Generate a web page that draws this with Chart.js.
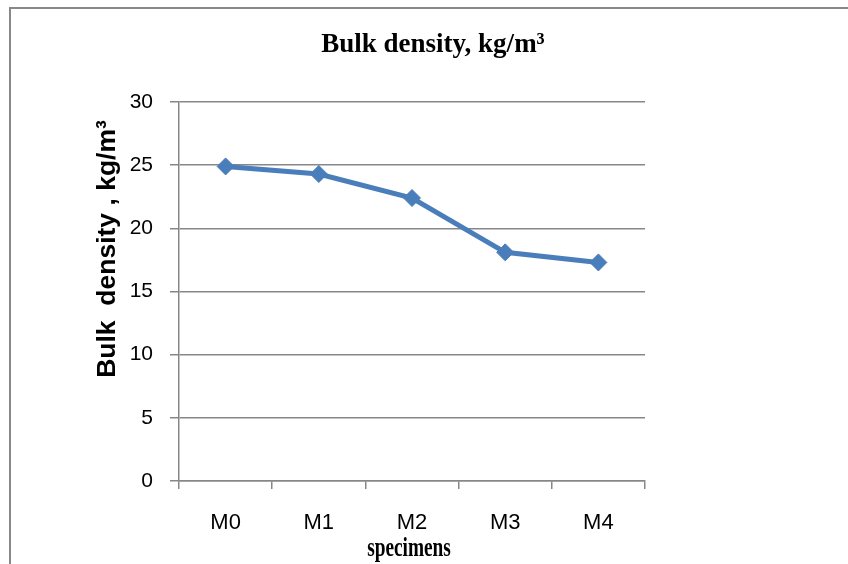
<!DOCTYPE html>
<html>
<head>
<meta charset="utf-8">
<script src="https://cdn.jsdelivr.net/npm/chart.js@4/dist/chart.umd.min.js"></script>
<style>
html,body{margin:0;padding:0;background:#fff;}
#c{display:block;}
</style>
</head>
<body>
<canvas id="c" width="848" height="564"></canvas>
<script>
// ---- data ----
const categories = ['M0', 'M1', 'M2', 'M3', 'M4'];
const bulkDensity = [24.9, 24.3, 22.4, 18.1, 17.3];
const yTicks = [0, 5, 10, 15, 20, 25, 30];
const chartTitle = 'Bulk density, kg/m³';
const yAxisTitle = 'Bulk  density , kg/m³';
const xAxisTitle = 'specimens';

const GRID = '#878787';
const BLUE = '#4A7EBB';

const decor = {
  id: 'decor',
  beforeDraw(chart) {
    const ctx = chart.ctx;
    ctx.save();
    ctx.fillStyle = '#fff';
    ctx.fillRect(0, 0, chart.width, chart.height);
    ctx.strokeStyle = '#888';
    ctx.lineWidth = 2;
    ctx.beginPath();
    ctx.moveTo(10, 564);
    ctx.lineTo(10, 8);
    ctx.lineTo(848, 8);
    ctx.stroke();
    ctx.restore();
  },
  afterDraw(chart) {
    const ctx = chart.ctx;
    const area = chart.chartArea;
    ctx.save();
    ctx.fillStyle = '#000';
    // chart title
    ctx.save();
    ctx.translate(433, 52);
    ctx.scale(1, 1.05);
    ctx.font = 'bold 27px "Liberation Serif"';
    ctx.textAlign = 'center';
    ctx.textBaseline = 'alphabetic';
    ctx.fillText(chartTitle, 0, 0);
    ctx.restore();
    // y axis title
    ctx.save();
    ctx.translate(115, 249);
    ctx.rotate(-Math.PI / 2);
    ctx.font = 'bold 26.5px "Liberation Sans"';
    ctx.textAlign = 'center';
    ctx.textBaseline = 'alphabetic';
    ctx.fillText(yAxisTitle, 0, 0);
    ctx.restore();
    // x axis title (condensed serif)
    ctx.save();
    const cx = (area.left + area.right) / 2 - 3;
    ctx.translate(cx, 556);
    ctx.scale(0.69, 1);
    ctx.font = 'bold 28px "Liberation Serif"';
    ctx.textAlign = 'center';
    ctx.textBaseline = 'alphabetic';
    ctx.fillText(xAxisTitle, 0, 0);
    ctx.restore();
    ctx.restore();
  }
};

new Chart(document.getElementById('c'), {
  type: 'line',
  data: {
    labels: categories,
    datasets: [{
      data: bulkDensity,
      borderColor: BLUE,
      backgroundColor: BLUE,
      borderWidth: 5,
      pointStyle: 'rectRot',
      pointRadius: 8.5,
      pointBorderWidth: 1,
      pointBorderColor: BLUE,
      pointBackgroundColor: BLUE,
      tension: 0,
      clip: false
    }]
  },
  options: {
    responsive: false,
    animation: false,
    devicePixelRatio: 1,
    layout: { padding: { left: 0, right: 203, top: 102, bottom: 0 } },
    plugins: {
      legend: { display: false },
      title: { display: false },
      tooltip: { enabled: false }
    },
    scales: {
      x: {
        type: 'category',
        offset: true,
        grid: {
          display: true,
          drawOnChartArea: false,
          drawTicks: true,
          tickLength: 8,
          offset: true,
          color: GRID,
          lineWidth: 1.5
        },
        border: { display: true, color: GRID, width: 1.5 },
        ticks: {
          color: '#000',
          padding: 21,
          font: { family: '"Liberation Sans"', size: 22 },
          maxRotation: 0
        },
        afterFit(scale) { scale.height = 83; }
      },
      y: {
        min: 0,
        max: 30,
        afterBuildTicks(scale) { scale.ticks = yTicks.map(v => ({ value: v })); },
        grid: {
          color: GRID,
          lineWidth: 1.5,
          drawTicks: true,
          tickLength: 9
        },
        border: { display: true, color: GRID, width: 1.5 },
        ticks: {
          color: '#000',
          padding: 17,
          font: { family: '"Liberation Sans"', size: 21 }
        },
        afterFit(scale) { scale.width = 179; }
      }
    }
  },
  plugins: [decor]
});
</script>
</body>
</html>
